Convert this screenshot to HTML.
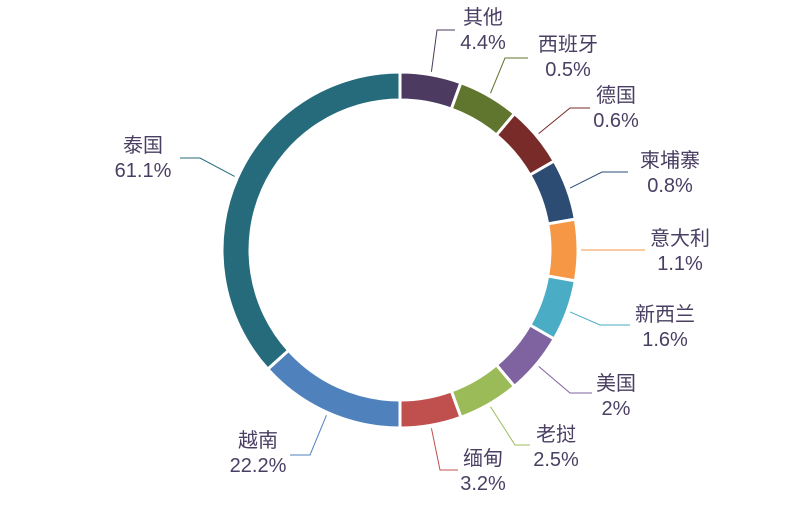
<!DOCTYPE html>
<html><head><meta charset="utf-8"><style>
body{margin:0;background:#fff}
svg text{font-family:"Liberation Sans","Noto Sans CJK SC",sans-serif;font-size:20px;fill:#4a3f63}
</style></head><body>
<svg width="800" height="500" id="c"></svg>
<script>
const categories=["其他","西班牙","德国","柬埔寨","意大利","新西兰","美国","老挝","缅甸","越南","泰国"];
const values=[4.4,0.5,0.6,0.8,1.1,1.6,2,2.5,3.2,22.2,61.1];
const valueLabels=["4.4%","0.5%","0.6%","0.8%","1.1%","1.6%","2%","2.5%","3.2%","22.2%","61.1%"];
const colors=["#4d3a60","#60752d","#782b29","#2c4c74","#f59744","#4aacc5","#7f63a1","#9bbb59","#c0504d","#4f81bd","#256b7c"];
// label layout: elbow x,y ; end x ; text center x,y
const layout=[[437,30,455,483,17],[505,58,528,568,44],[570,108,590,616,95],[602,172,628,670,160],[605,250,645,680,238],[600,325,630,665,314],[570,393,592,616,383],[515,445,530,556,434],[440,470,458,483,458],[310,455,290,258,440],[200,158,180,143,145]];
const cx=400,cy=250,R=178,r=150,minAngle=20;
const svg=document.getElementById('c');const NS='http://www.w3.org/2000/svg';
const sum=values.reduce((a,b)=>a+b,0);
let ang=values.map(v=>v/sum*360);
let fixed=ang.map(a=>a<minAngle);
let fixedTot=fixed.filter(x=>x).length*minAngle;
let freeSum=values.filter((v,i)=>!fixed[i]).reduce((a,b)=>a+b,0);
ang=ang.map((a,i)=>fixed[i]?minAngle:values[i]/freeSum*(360-fixedTot));
function pt(rad,a){const t=(a-90)*Math.PI/180;return [cx+rad*Math.cos(t),cy+rad*Math.sin(t)];}
let start=0;
values.forEach((v,i)=>{
 const end=start+ang[i];
 const [x1,y1]=pt(R,start),[x2,y2]=pt(R,end),[x3,y3]=pt(r,end),[x4,y4]=pt(r,start);
 const lg=ang[i]>180?1:0;
 const p=document.createElementNS(NS,'path');
 p.setAttribute('d',`M${x1},${y1}A${R},${R} 0 ${lg} 1 ${x2},${y2}L${x3},${y3}A${r},${r} 0 ${lg} 0 ${x4},${y4}Z`);
 p.setAttribute('fill',colors[i]);p.setAttribute('stroke','#fff');p.setAttribute('stroke-width','3');
 
 
 svg.appendChild(p);
 const mid=(start+end)/2;const [sx,sy]=pt(R+3,mid);const L=layout[i];
 const pl=document.createElementNS(NS,'polyline');
 pl.setAttribute('points',`${sx},${sy} ${L[0]},${L[1]} ${L[2]},${L[1]}`);
 pl.setAttribute('fill','none');pl.setAttribute('stroke',colors[i]);pl.setAttribute('stroke-width','1');
 
 
 svg.appendChild(pl);
 const t=document.createElementNS(NS,'text');
 t.setAttribute('text-anchor','middle');
 
 
 const a=document.createElementNS(NS,'tspan');a.setAttribute('x',L[3]);a.setAttribute('y',L[4]+7);a.textContent=categories[i];
 const b=document.createElementNS(NS,'tspan');b.setAttribute('x',L[3]);b.setAttribute('y',L[4]+32);b.textContent=valueLabels[i];
 t.appendChild(a);t.appendChild(b);svg.appendChild(t);
 start=end;
});
</script>
</body></html>
